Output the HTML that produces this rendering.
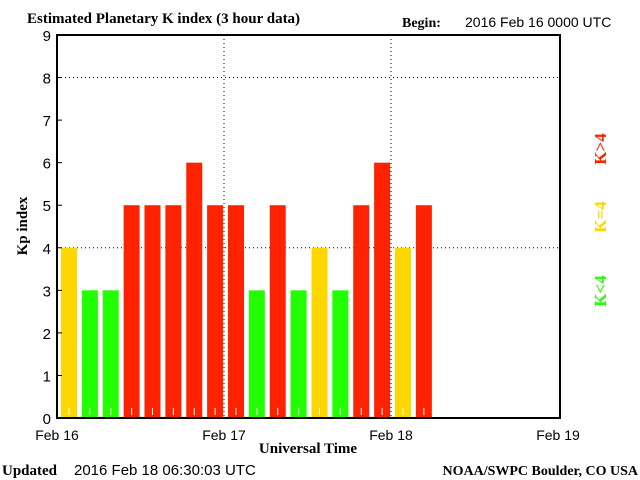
<!DOCTYPE html>
<html><head><meta charset="utf-8">
<style>
html,body{margin:0;padding:0;background:#fff;}
svg{display:block;}
.serif{font-family:"Liberation Serif",serif;font-weight:bold;}
.sans{font-family:"Liberation Sans",sans-serif;}
</style></head>
<body>
<svg id="chart" width="640" height="480" viewBox="0 0 640 480" xmlns="http://www.w3.org/2000/svg">
  <text x="27" y="23" class="serif" font-size="15">Estimated Planetary K index (3 hour data)</text>
  <text x="402" y="27" class="serif" font-size="14">Begin:</text>
  <text x="465" y="27" class="sans" font-size="14">2016 Feb 16 0000 UTC</text>
  <g id="grid"></g>
  <g id="bars"></g>
  <rect x="57" y="35" width="503" height="383" fill="none" stroke="#000" stroke-width="2"/>
  <g id="yticks"></g>
  <g id="xticks"></g>
  <text transform="translate(27,226) rotate(-90)" text-anchor="middle" class="serif" font-size="15">Kp index</text>
  <text x="308" y="453" text-anchor="middle" class="serif" font-size="15">Universal Time</text>
  <text transform="translate(606,149) rotate(-90)" text-anchor="middle" class="serif" font-size="17" fill="#ff2200">K&gt;4</text>
  <text transform="translate(606,217) rotate(-90)" text-anchor="middle" class="serif" font-size="17" fill="#ffd700">K=4</text>
  <text transform="translate(606,291) rotate(-90)" text-anchor="middle" class="serif" font-size="17" fill="#22ff00">K&lt;4</text>
  <text x="2" y="475" class="serif" font-size="15">Updated</text>
  <text x="74" y="475" class="sans" font-size="15">2016 Feb 18 06:30:03 UTC</text>
  <text x="638" y="475" text-anchor="end" class="serif" font-size="14">NOAA/SWPC Boulder, CO USA</text>
</svg>
<script>
const kpValues = [4,3,3,5,5,5,6,5,5,3,5,3,4,3,5,6,4,5];
const dayLabels = ["Feb 16","Feb 17","Feb 18","Feb 19"];
const yTickLabels = [0,1,2,3,4,5,6,7,8,9];
const NS="http://www.w3.org/2000/svg";
const X0=57, DAYW=167, Y0=418, YMAX=9, PH=383;
function xSlot(i){return X0 + i*DAYW/8;}
function xDay(d){return X0 + d*DAYW;}
function yScale(v){return Y0 - v*PH/YMAX;}
function mk(tag,attrs,parent){const e=document.createElementNS(NS,tag);for(const k in attrs)e.setAttribute(k,attrs[k]);parent.appendChild(e);return e;}
const grid=document.getElementById('grid'), bars=document.getElementById('bars'), yt=document.getElementById('yticks'), xt=document.getElementById('xticks');
[4,8].forEach(v=>{const l=mk('line',{x1:X0,x2:560,y1:yScale(v),y2:yScale(v),stroke:'#000','stroke-dasharray':'1,3'},grid);

});
[1,2].forEach(d=>{const l=mk('line',{x1:xDay(d),x2:xDay(d),y1:35,y2:Y0,stroke:'#000','stroke-dasharray':'1,3'},grid);

});
kpValues.forEach((v,i)=>{
  const col=v<4?'#22ff00':(v===4?'#ffd700':'#ff2200');
  const x=xSlot(i)+4, w=16;
  const r=mk('rect',{x:x,y:yScale(v),width:w,height:Y0-yScale(v),fill:col},bars);
  
  
  const t=mk('line',{x1:x+w/2,x2:x+w/2,y1:Y0-10,y2:Y0-3,stroke:'#fff','stroke-width':1},bars);
  
  
});
yTickLabels.forEach(v=>{
  const t=mk('text',{x:51,y:yScale(v)+6,'text-anchor':'end','font-size':15,'font-family':'Liberation Sans, sans-serif'},yt);
  t.textContent=v;
  
  
  const l=mk('line',{x1:X0,x2:X0+5,y1:yScale(v),y2:yScale(v),stroke:'#000'},yt);
  
  
});
dayLabels.forEach((s,d)=>{
  const t=mk('text',{x:xDay(d),y:440,'text-anchor':'middle','font-size':14,'font-family':'Liberation Sans, sans-serif'},xt);
  t.textContent=s;
  
  
});
</script>
</body></html>
